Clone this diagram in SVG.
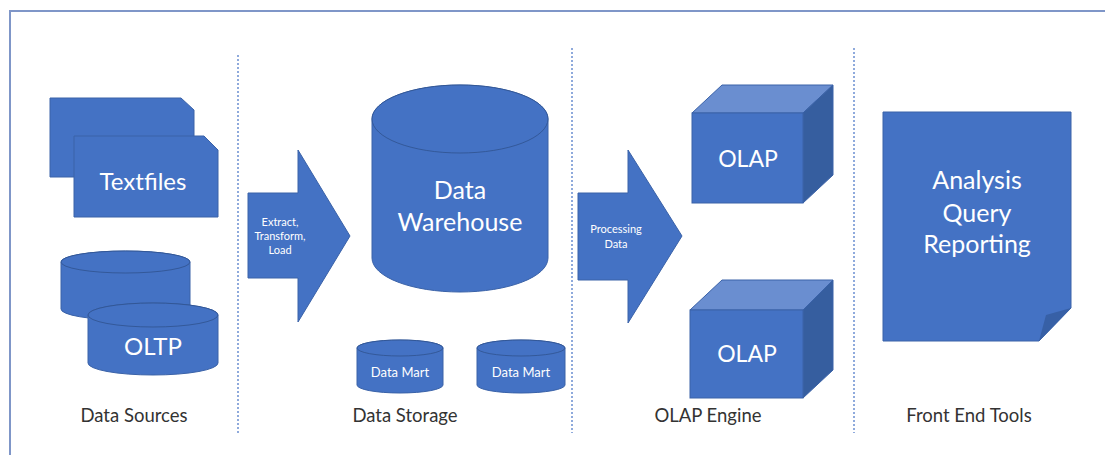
<svg xmlns="http://www.w3.org/2000/svg" width="1105" height="455" viewBox="0 0 1105 455">
<style>
.shape{fill:#4472C4;stroke:#3A62A8;stroke-width:1}
.rim{fill:#4472C4;stroke:#2F528F;stroke-width:1;stroke-opacity:0.8}
.top{fill:#6A8ED0;stroke:#3A62A8;stroke-width:1}
.side{fill:#365E9F;stroke:#3A62A8;stroke-width:1}
.fold{fill:#3760A6}
.sep{stroke:#8FAADC;stroke-width:2;stroke-dasharray:2 2;fill:none}
.frame{stroke:#7F96C8;stroke-width:2;fill:none}
text{font-family:Lato,"Noto Sans","Liberation Sans",sans-serif;text-anchor:middle}
.w{fill:#FFFFFF}
.big{font-size:25px}
.olap{font-size:23px}
.med{font-size:24px}
.sm{font-size:11px}
.dm{font-size:13px}
.lab{font-size:18.5px;fill:#333333}
</style>
<rect x="0" y="0" width="1105" height="455" fill="#FFFFFF"/>
<g id="frame">
<path class="frame" d="M10,455 V11 H1105"/>
</g>
<g id="separators">
<line class="sep" x1="238" y1="55" x2="238" y2="433"/>
<line class="sep" x1="572" y1="48" x2="572" y2="433"/>
<line class="sep" x1="854" y1="48" x2="854" y2="433"/>
</g>
<g id="textfiles">
<polygon class="shape" points="50,98 181,98 194,110 194,177 50,177"/>
<polygon class="shape" points="74,136 204,136 218,150 218,217 74,217"/>
<text class="w med" x="143" y="190">Textfiles</text>
</g>
<g id="oltp">
<path class="shape" d="M61,262 A64.5,11 0 0 1 190,262 V309 A64.5,11 0 0 1 61,309 Z"/>
<ellipse class="rim" cx="125.5" cy="262" rx="64.5" ry="11"/>
<path class="shape" d="M88,315 A65,12 0 0 1 218,315 V363 A65,12 0 0 1 88,363 Z"/>
<ellipse class="rim" cx="153" cy="315" rx="65" ry="12"/>
<text class="w med" x="153" y="355">OLTP</text>
</g>
<g id="etl-arrow">
<polygon class="shape" points="248,193 298,193 298,150 350,236 298,322 298,278 248,278"/>
<text class="w sm" x="280" y="226">Extract,</text>
<text class="w sm" x="280" y="240">Transform,</text>
<text class="w sm" x="280" y="254">Load</text>
</g>
<g id="data-warehouse">
<path class="shape" d="M372,119 A88,34 0 0 1 548,119 V258 A88,34 0 0 1 372,258 Z"/>
<ellipse class="rim" cx="460" cy="119" rx="88" ry="34"/>
<text class="w big" x="460" y="199">Data</text>
<text class="w big" x="460" y="231">Warehouse</text>
</g>
<g id="data-mart-1">
<path class="shape" d="M357,348 A43,8 0 0 1 443,348 V385 A43,8 0 0 1 357,385 Z"/>
<ellipse class="rim" cx="400" cy="348" rx="43" ry="8"/>
<text class="w dm" x="400" y="377">Data Mart</text>
</g>
<g id="data-mart-2">
<path class="shape" d="M477,348 A44,8 0 0 1 565,348 V385 A44,8 0 0 1 477,385 Z"/>
<ellipse class="rim" cx="521" cy="348" rx="44" ry="8"/>
<text class="w dm" x="521" y="377">Data Mart</text>
</g>
<g id="processing-arrow">
<polygon class="shape" points="578,193 628,193 628,150 682,236 628,323 628,280 578,280"/>
<text class="w sm" x="616" y="233">Processing</text>
<text class="w sm" x="616" y="248">Data</text>
</g>
<g id="olap-1">
<polygon class="top" points="692,113 722,85 833,85 803,113"/>
<polygon class="side" points="803,113 833,85 833,175 803,203"/>
<rect class="shape" x="692" y="113" width="111" height="90"/>
<text class="w olap" x="748" y="167">OLAP</text>
</g>
<g id="olap-2">
<polygon class="top" points="690,310 722,280 833,280 803,310"/>
<polygon class="side" points="803,310 833,280 833,370 803,398"/>
<rect class="shape" x="690" y="310" width="113" height="88"/>
<text class="w olap" x="747" y="362">OLAP</text>
</g>
<g id="front-end-doc">
<polygon class="shape" points="883,112 1071,112 1071,308 1039,341 883,341"/>
<polygon class="fold" points="1071,308 1039,341 1046,315"/>
<text class="w big" x="977" y="189">Analysis</text>
<text class="w big" x="977" y="222">Query</text>
<text class="w big" x="977" y="253">Reporting</text>
</g>
<g id="labels">
<text class="lab" x="134" y="422">Data Sources</text>
<text class="lab" x="405" y="422">Data Storage</text>
<text class="lab" x="708" y="422">OLAP Engine</text>
<text class="lab" x="969" y="422">Front End Tools</text>
</g>
</svg>
